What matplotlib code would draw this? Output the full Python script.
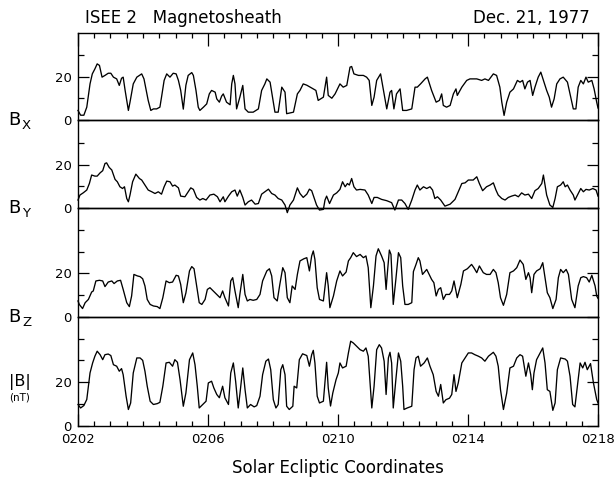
import matplotlib
matplotlib.use("Agg")
import matplotlib.pyplot as plt
from matplotlib.ticker import MultipleLocator

plt.rcParams["font.family"] = ["DejaVu Sans"]

# Time axis: minutes after 02:00 UT
xtick_pos = [2, 6, 10, 14, 18]
xtick_labels = ["0202", "0206", "0210", "0214", "0218"]

# Bx (nT)
bx_t = [2.00, 2.08, 2.18, 2.27, 2.37, 2.44, 2.52, 2.59, 2.66, 2.74, 2.83, 2.93, 3.01, 3.09,
        3.19, 3.27, 3.34, 3.39, 3.45, 3.55, 3.60, 3.70, 3.81, 3.96, 4.03, 4.11, 4.16, 4.24,
        4.32, 4.42, 4.52, 4.57, 4.65, 4.73, 4.83, 4.93, 5.02, 5.09, 5.16, 5.24, 5.32, 5.39,
        5.50, 5.55, 5.63, 5.70, 5.75, 5.86, 5.96, 6.04, 6.11, 6.22, 6.27, 6.35, 6.42, 6.47,
        6.57, 6.68, 6.73, 6.78, 6.83, 6.88, 6.98, 7.07, 7.14, 7.24, 7.39, 7.55, 7.65, 7.75,
        7.81, 7.91, 8.06, 8.16, 8.27, 8.37, 8.42, 8.63, 8.75, 8.83, 8.93, 9.04, 9.24, 9.32,
        9.39, 9.55, 9.65, 9.70, 9.81, 9.91, 10.06, 10.16, 10.27, 10.37, 10.42, 10.49, 10.63,
        10.78, 10.88, 10.96, 11.04, 11.11, 11.19, 11.31, 11.39, 11.50, 11.60, 11.65, 11.72,
        11.80, 11.91, 11.99, 12.11, 12.27, 12.37, 12.44, 12.54, 12.68, 12.75, 12.88, 13.02,
        13.12, 13.19, 13.24, 13.34, 13.45, 13.55, 13.63, 13.67, 13.81, 13.96, 14.06, 14.27,
        14.42, 14.52, 14.63, 14.78, 14.88, 14.98, 15.04, 15.11, 15.19, 15.29, 15.40, 15.52,
        15.60, 15.68, 15.75, 15.83, 15.91, 15.99, 16.06, 16.16, 16.24, 16.32, 16.42, 16.50,
        16.57, 16.65, 16.73, 16.83, 16.93, 17.06, 17.16, 17.24, 17.32, 17.39, 17.47, 17.55,
        17.63, 17.70, 17.81, 17.88, 17.96, 18.00]
bx = [4.4, 2.2, 2.2, 5.9, 16.6, 21.2, 23.5, 25.8, 25.1, 19.7, 20.5, 21.5, 21.5, 19.7,
      18.9, 15.9, 19.2, 19.7, 13.6, 4.4, 8.2, 16.6, 19.7, 21.2, 18.9, 12.8, 9.0, 4.4,
      5.1, 5.1, 5.9, 10.5, 18.2, 21.2, 19.7, 21.5, 21.2, 18.2, 13.6, 5.0, 16.0, 20.5,
      21.8, 20.5, 13.6, 5.9, 4.4, 5.9, 7.4, 12.0, 13.6, 12.8, 9.7, 8.2, 11.0, 12.0,
      8.2, 7.0, 16.6, 20.5, 16.6, 5.1, 10.5, 15.9, 5.1, 3.6, 3.6, 5.1, 13.6, 16.6,
      18.9, 17.4, 3.6, 3.6, 15.1, 12.8, 2.9, 3.6, 12.0, 13.6, 16.6, 16.0, 14.3, 13.6,
      9.0, 10.5, 19.7, 11.3, 10.0, 12.0, 16.6, 15.1, 15.9, 24.3, 24.6, 21.2, 20.5,
      20.5, 19.7, 18.2, 6.7, 10.5, 18.2, 21.2, 14.3, 5.1, 12.8, 13.6, 5.1,
      12.0, 14.3, 4.4, 4.4, 5.1, 15.1, 15.1, 16.6, 18.9, 19.7, 13.6, 8.2,
      9.0, 12.0, 6.7, 5.9, 6.7, 12.0, 14.3, 11.3, 15.1, 18.2, 18.9, 18.9,
      18.2, 18.9, 18.2, 21.2, 20.5, 15.1, 8.2, 2.1, 8.2, 12.8, 14.3, 18.2,
      17.4, 18.2, 14.3, 17.4, 18.2, 11.3, 15.1, 19.7, 22.0, 18.2, 13.6, 10.5,
      5.9, 9.7, 16.6, 18.9, 19.7, 17.4, 10.5, 5.1, 5.1, 15.1, 18.2, 16.6,
      19.7, 17.4, 18.2, 14.3, 8.2, 5.5]

# By (nT)
by_t = [2.00, 2.06, 2.16, 2.27, 2.35, 2.42, 2.52, 2.59, 2.68, 2.76, 2.83, 2.88, 2.96, 3.04,
        3.14, 3.21, 3.29, 3.37, 3.43, 3.50, 3.55, 3.60, 3.68, 3.78, 3.89, 3.96, 4.06, 4.16,
        4.27, 4.37, 4.47, 4.57, 4.65, 4.73, 4.83, 4.91, 4.98, 5.09, 5.16, 5.29, 5.39, 5.47,
        5.55, 5.65, 5.75, 5.84, 5.94, 6.06, 6.18, 6.29, 6.37, 6.47, 6.52, 6.63, 6.73, 6.83,
        6.90, 6.98, 7.07, 7.14, 7.24, 7.34, 7.45, 7.55, 7.65, 7.75, 7.86, 7.96, 8.06, 8.16,
        8.27, 8.37, 8.44, 8.52, 8.63, 8.68, 8.75, 8.83, 8.93, 9.04, 9.12, 9.19, 9.26, 9.34,
        9.43, 9.55, 9.60, 9.65, 9.74, 9.86, 9.96, 10.06, 10.14, 10.22, 10.29, 10.35, 10.42,
        10.49, 10.57, 10.68, 10.83, 10.93, 11.04, 11.11, 11.21, 11.34, 11.50, 11.65, 11.75,
        11.86, 11.96, 12.06, 12.16, 12.27, 12.37, 12.44, 12.52, 12.63, 12.73, 12.83, 12.91,
        12.98, 13.06, 13.16, 13.29, 13.45, 13.60, 13.70, 13.81, 13.91, 14.01, 14.16, 14.27,
        14.35, 14.45, 14.57, 14.68, 14.78, 14.86, 14.93, 15.04, 15.14, 15.24, 15.34, 15.45,
        15.55, 15.65, 15.75, 15.86, 15.96, 16.06, 16.16, 16.27, 16.32, 16.37, 16.42, 16.52,
        16.61, 16.68, 16.75, 16.85, 16.93, 16.99, 17.06, 17.14, 17.24, 17.29, 17.39, 17.47,
        17.55, 17.63, 17.73, 17.84, 17.94, 18.00]
by = [3.7, 6.0, 7.0, 8.3, 11.3, 15.2, 14.7, 14.7, 16.2, 17.2, 20.5, 20.8, 18.7, 17.5,
      13.2, 12.1, 9.8, 9.0, 9.8, 4.4, 2.9, 6.0, 12.1, 15.6, 13.6, 12.9, 10.6, 8.3,
      7.5, 6.7, 7.5, 6.4, 9.8, 12.4, 12.1, 10.1, 10.6, 9.3, 5.5, 5.2, 7.5, 9.3,
      8.6, 4.9, 3.7, 4.4, 3.7, 6.0, 6.4, 5.2, 2.9, 5.2, 2.9, 5.5, 7.5, 8.3,
      5.5, 8.3, 4.9, 1.4, 2.9, 3.7, 1.8, 2.1, 6.4, 7.5, 8.7, 6.7, 6.0, 4.4,
      3.7, 1.4, -2.1, 1.4, 3.7, 6.0, 9.3, 6.7, 4.9, 6.4, 8.7, 8.0, 4.9, 1.4,
      -0.9, -0.6, 3.7, 5.5, 2.1, 6.0, 7.0, 8.6, 12.1, 9.8, 11.3, 10.6, 13.6,
      9.8, 8.3, 8.6, 8.3, 6.0, 2.1, 4.9, 4.9, 4.0, 3.4, 2.5, -0.9,
      3.7, 3.7, 2.1, -0.6, 3.7, 8.3, 10.6, 8.3, 9.8, 9.0, 9.8, 8.3,
      4.4, 5.2, 3.7, 0.9, 1.8, 4.0, 7.5, 11.3, 11.6, 12.9, 12.9, 14.4,
      11.3, 8.0, 9.8, 10.6, 11.6, 8.3, 6.0, 4.4, 3.7, 4.9, 5.5, 6.0,
      5.2, 7.0, 6.0, 6.4, 4.4, 8.0, 9.0, 11.3, 15.2, 10.6, 6.0, 1.4,
      0.3, 4.4, 9.8, 10.6, 12.1, 9.8, 10.6, 8.3, 6.0, 3.7, 6.7, 9.0,
      7.5, 8.6, 8.3, 9.0, 8.3, 5.5]

# Bz (nT)
bz_t = [2.00, 2.04, 2.14, 2.22, 2.32, 2.42, 2.47, 2.55, 2.66, 2.76, 2.83, 2.93, 3.04, 3.11,
        3.21, 3.31, 3.39, 3.50, 3.58, 3.65, 3.72, 3.83, 3.91, 3.99, 4.06, 4.13, 4.22, 4.32,
        4.44, 4.52, 4.61, 4.71, 4.81, 4.91, 5.02, 5.09, 5.16, 5.24, 5.32, 5.43, 5.50, 5.57,
        5.65, 5.73, 5.81, 5.91, 5.98, 6.06, 6.16, 6.27, 6.37, 6.45, 6.52, 6.63, 6.70, 6.76,
        6.83, 6.93, 6.98, 7.07, 7.14, 7.21, 7.29, 7.39, 7.50, 7.60, 7.68, 7.81, 7.89, 7.96,
        8.03, 8.13, 8.21, 8.30, 8.37, 8.44, 8.52, 8.59, 8.68, 8.75, 8.83, 8.95, 9.04, 9.12,
        9.19, 9.24, 9.29, 9.36, 9.43, 9.55, 9.65, 9.70, 9.75, 9.86, 9.96, 10.06, 10.14,
        10.25, 10.32, 10.39, 10.47, 10.57, 10.68, 10.78, 10.86, 10.93, 11.01, 11.09, 11.17,
        11.24, 11.34, 11.42, 11.48, 11.52, 11.58, 11.63, 11.70, 11.78, 11.86, 11.93, 11.99,
        12.06, 12.16, 12.27, 12.32, 12.40, 12.47, 12.52, 12.60, 12.73, 12.78, 12.88, 12.95,
        13.02, 13.09, 13.16, 13.24, 13.32, 13.43, 13.50, 13.57, 13.63, 13.67, 13.78, 13.86,
        13.98, 14.11, 14.18, 14.27, 14.35, 14.47, 14.57, 14.68, 14.78, 14.86, 14.93, 15.00,
        15.09, 15.19, 15.29, 15.40, 15.50, 15.60, 15.70, 15.78, 15.86, 15.91, 15.96, 16.03,
        16.11, 16.22, 16.30, 16.37, 16.44, 16.52, 16.61, 16.71, 16.78, 16.85, 16.93, 17.02,
        17.09, 17.19, 17.29, 17.39, 17.47, 17.55, 17.65, 17.73, 17.81, 17.91, 17.96, 18.00]
bz = [7.3, 5.7, 3.8, 6.5, 8.0, 11.4, 11.9, 16.5, 16.8, 16.5, 13.9, 16.0, 16.5, 15.3,
      16.5, 16.8, 12.6, 6.5, 4.7, 9.6, 19.5, 18.8, 18.5, 17.5, 14.2, 8.0, 5.7, 5.0,
      4.7, 3.8, 8.8, 16.5, 15.7, 16.0, 19.1, 18.8, 14.9, 6.5, 11.0, 21.1, 23.1, 22.1,
      14.2, 6.5, 5.7, 8.0, 12.6, 13.4, 11.9, 10.3, 8.8, 11.9, 8.8, 5.0, 16.5, 18.0,
      11.9, 4.2, 10.3, 19.5, 10.3, 7.3, 8.0, 7.6, 8.0, 10.3, 16.5, 21.1, 22.1, 18.8,
      8.8, 7.3, 14.9, 22.6, 20.3, 8.8, 6.5, 14.2, 12.6, 19.5, 25.7, 26.7, 27.2, 21.1,
      28.0, 30.3, 26.4, 13.4, 8.0, 7.3, 20.3, 14.2, 4.2, 9.6, 16.5, 21.1, 18.8,
      20.6, 25.7, 27.2, 29.5, 27.7, 28.7, 27.2, 28.0, 22.6, 4.2, 14.2, 28.0,
      31.3, 28.0, 24.9, 12.6, 20.3, 30.7, 28.7, 5.7, 17.2, 29.5, 27.2, 14.2,
      5.7, 5.7, 6.5, 20.8, 24.1, 27.2, 25.7, 19.5, 21.8, 20.3, 17.2, 15.7,
      9.6, 12.6, 13.4, 8.0, 10.3, 10.3, 11.9, 16.5, 11.9, 8.8, 14.9, 21.1,
      22.1, 24.1, 22.6, 20.3, 23.4, 20.3, 19.5, 19.5, 21.8, 20.3, 15.7, 8.8,
      5.3, 10.3, 20.3, 21.1, 22.6, 26.1, 24.1, 17.2, 20.3, 18.0, 11.1, 19.5,
      21.1, 22.1, 24.9, 18.0, 11.1, 8.8, 3.8, 8.0, 18.0, 21.8, 20.3, 21.8,
      19.5, 8.0, 4.2, 14.2, 18.0, 18.5, 18.0, 16.0, 19.1, 14.2, 9.6, 8.5]

# |B| (nT)
bt_t = [2.00, 2.08, 2.18, 2.27, 2.37, 2.45, 2.52, 2.59, 2.68, 2.76, 2.83, 2.93, 3.01, 3.09,
        3.19, 3.27, 3.34, 3.39, 3.48, 3.55, 3.62, 3.70, 3.81, 3.91, 3.99, 4.06, 4.13, 4.22,
        4.32, 4.44, 4.52, 4.61, 4.71, 4.81, 4.91, 4.98, 5.06, 5.14, 5.24, 5.32, 5.43, 5.53,
        5.60, 5.67, 5.73, 5.84, 5.94, 6.01, 6.11, 6.18, 6.27, 6.35, 6.45, 6.52, 6.63, 6.70,
        6.78, 6.85, 6.93, 6.98, 7.07, 7.14, 7.21, 7.31, 7.42, 7.50, 7.60, 7.68, 7.78, 7.86,
        7.93, 8.01, 8.09, 8.16, 8.24, 8.30, 8.37, 8.42, 8.50, 8.61, 8.65, 8.73, 8.81, 8.91,
        9.04, 9.12, 9.19, 9.24, 9.29, 9.36, 9.43, 9.55, 9.65, 9.70, 9.77, 9.84, 9.94, 10.01,
        10.06, 10.14, 10.25, 10.32, 10.39, 10.47, 10.57, 10.68, 10.78, 10.86, 10.93, 11.04,
        11.11, 11.19, 11.27, 11.34, 11.42, 11.48, 11.55, 11.60, 11.65, 11.70, 11.78, 11.86,
        11.93, 11.99, 12.03, 12.13, 12.27, 12.34, 12.40, 12.47, 12.54, 12.65, 12.75, 12.83,
        12.93, 13.02, 13.09, 13.16, 13.24, 13.32, 13.43, 13.50, 13.57, 13.63, 13.70, 13.81,
        13.91, 14.01, 14.11, 14.21, 14.32, 14.42, 14.52, 14.63, 14.78, 14.86, 14.93, 15.00,
        15.09, 15.19, 15.29, 15.40, 15.50, 15.60, 15.68, 15.78, 15.86, 15.93, 15.98, 16.03,
        16.11, 16.22, 16.30, 16.37, 16.44, 16.52, 16.61, 16.68, 16.75, 16.85, 16.99, 17.06,
        17.14, 17.22, 17.29, 17.39, 17.45, 17.53, 17.60, 17.67, 17.77, 17.86, 17.96, 18.00]
bt = [9.7, 8.1, 9.2, 12.0, 24.2, 28.8, 31.9, 34.2, 32.6, 30.3, 32.6, 32.9, 32.2, 28.0,
      27.3, 25.0, 26.2, 23.4, 13.5, 7.4, 10.4, 24.2, 31.1, 31.1, 30.0, 25.0, 18.1, 11.2,
      9.7, 10.1, 10.7, 18.1, 28.8, 29.1, 27.3, 30.3, 29.1, 21.1, 8.9, 15.0, 30.3, 33.4,
      28.0, 18.1, 8.1, 9.7, 11.2, 19.6, 20.4, 17.3, 14.3, 12.8, 18.1, 12.8, 9.7, 24.2,
      28.8, 20.4, 8.1, 14.3, 26.5, 16.5, 8.1, 9.7, 8.6, 9.2, 13.5, 23.4, 29.6, 30.6,
      25.7, 11.9, 8.1, 9.7, 25.7, 28.0, 23.4, 8.9, 7.4, 8.9, 18.1, 17.3, 30.3, 33.0,
      32.2, 27.3, 32.6, 34.6, 28.8, 13.5, 10.4, 11.2, 29.1, 17.3, 9.0, 15.0, 21.1, 24.2,
      28.8, 26.5, 27.3, 33.4, 38.8, 38.0, 36.5, 34.9, 34.2, 35.7, 31.9, 8.1,
      18.1, 34.9, 37.2, 35.7, 29.6, 14.3, 31.1, 33.7, 28.8, 8.1, 21.1, 33.4,
      29.6, 18.1, 7.4, 8.1, 8.9, 25.7, 31.1, 31.9, 27.3, 28.8, 31.1, 27.3,
      23.4, 15.7, 13.5, 18.9, 10.4, 11.9, 12.6, 14.3, 23.4, 15.7, 19.6, 28.8,
      31.1, 33.4, 33.4, 32.6, 31.9, 31.1, 29.6, 31.9, 33.7, 31.9, 27.3, 16.5,
      7.4, 14.9, 26.5, 27.3, 31.1, 32.6, 31.9, 22.7, 28.8, 23.4, 16.5, 24.2,
      30.3, 33.4, 35.7, 28.8, 16.5, 15.7, 7.0, 10.4, 25.7, 31.1, 30.6, 29.6,
      22.7, 9.7, 8.6, 21.1, 28.8, 26.5, 29.1, 25.7, 28.5, 19.6, 12.0, 10.4]

panels = [
    ("X", bx_t, bx, 40.0),
    ("Y", by_t, by, 40.5),
    ("Z", bz_t, bz, 50.0),
    ("|B|", bt_t, bt, 50.0),
]

W, H = 616, 483
fig = plt.figure(figsize=(W / 100, H / 100), dpi=100)

left_px, right_px = 78, 598
top_px = 33
px_per_nT = 2.175

axes = []
y_cursor = top_px
for name, t, v, ymax in panels:
    h_px = ymax * px_per_nT
    bottom_px = y_cursor + h_px
    ax = fig.add_axes([left_px / W, 1 - bottom_px / H,
                       (right_px - left_px) / W, h_px / H])
    ax.patch.set_visible(False)
    ax.plot(t, v, color="black", lw=0.95, clip_on=False)
    ax.set_xlim(2, 18)
    ax.set_ylim(0, ymax)
    ax.set_yticks([0, 20])
    ax.set_yticklabels(["0", "20"])
    ax.set_yticks([y for y in (10, 30, 40) if y < ymax - 1], minor=True)
    ax.tick_params(axis="y", which="both", direction="in", left=True, right=True,
                   labelleft=True, labelright=False, labelsize=9.5, pad=4.5, width=0.9)
    ax.tick_params(axis="y", which="major", length=8)
    ax.tick_params(axis="y", which="minor", length=4)
    ax.xaxis.set_minor_locator(MultipleLocator(0.5))
    ax.set_xticks(xtick_pos)
    ax.tick_params(axis="x", which="both", direction="in", bottom=False, top=False,
                   labelbottom=False, width=0.9)
    for s in ax.spines.values():
        s.set_linewidth(1.0)
    axes.append((ax, bottom_px))
    y_cursor = bottom_px

# time ticks on the top frame and the bottom frame
top_ax = axes[0][0]
top_ax.tick_params(axis="x", which="both", top=True)
top_ax.tick_params(axis="x", which="major", length=9)
top_ax.tick_params(axis="x", which="minor", length=3.5)

bot_ax = axes[-1][0]
bot_ax.set_xticklabels(xtick_labels)
bot_ax.tick_params(axis="x", which="both", bottom=True, labelbottom=True,
                   labelsize=9.5, pad=5)
bot_ax.tick_params(axis="x", which="major", length=9)
bot_ax.tick_params(axis="x", which="minor", length=3.5)
bot_ax.set_xlabel("Solar Ecliptic Coordinates", fontsize=12, labelpad=10)

# component labels at the left edge
for (ax, zero_px), (name, *_rest) in zip(axes, panels):
    if name == "|B|":
        fig.text(9 / W, 1 - (zero_px - 40) / H, "|B|", fontsize=11.5, ha="left",
                 va="baseline")
        fig.text(20 / W, 1 - (zero_px - 25) / H, "(nT)", fontsize=7.5, ha="center",
                 va="baseline")
    else:
        fig.text(8 / W, 1 - (zero_px + 5) / H, "B", fontsize=13, ha="left",
                 va="baseline")
        fig.text(22 / W, 1 - (zero_px + 9) / H, name, fontsize=9.5, ha="left",
                 va="baseline")

fig.text(85 / W, 1 - 23 / H, "ISEE 2   Magnetosheath", fontsize=12, ha="left",
         va="baseline")
fig.text(590 / W, 1 - 23 / H, "Dec. 21, 1977", fontsize=12, ha="right",
         va="baseline")

fig.savefig("out.png", dpi=100)
